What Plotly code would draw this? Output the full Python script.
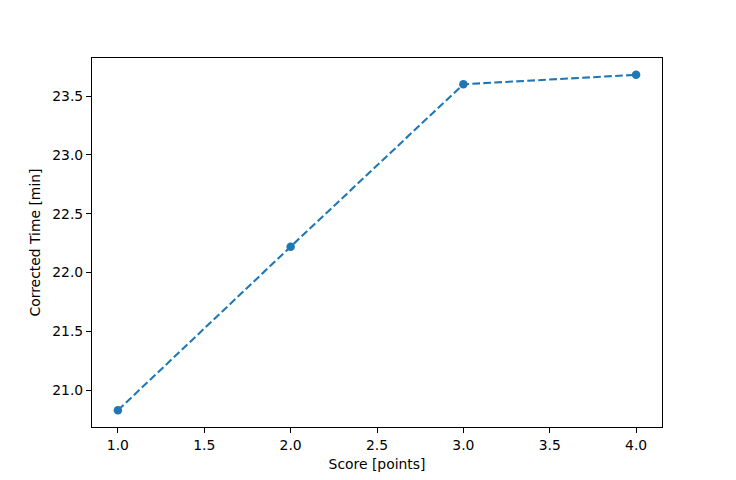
import plotly.graph_objects as go

scores = [1.0, 2.0, 3.0, 4.0]
times = [20.83, 22.22, 23.60, 23.68]
x_ticks = [1.0, 1.5, 2.0, 2.5, 3.0, 3.5, 4.0]
y_ticks = [21.0, 21.5, 22.0, 22.5, 23.0, 23.5]

FS = 13.9

fig = go.Figure()
fig.add_trace(go.Scatter(
    x=scores, y=times, mode="lines+markers",
    line=dict(color="#1f77b4", width=2.08, dash="7.7px,3.3px"),
    marker=dict(color="#1f77b4", size=8.5),
    showlegend=False,
))

axis_common = dict(
    showline=True, linecolor="black", linewidth=1, mirror=True,
    ticks="outside", ticklen=5, tickcolor="black", tickwidth=1,
    showgrid=False, zeroline=False,
    tickfont=dict(family="DejaVu Sans", size=FS, color="black"),
)

fig.update_layout(
    width=736, height=480,
    margin=dict(l=84, r=82, t=50, b=61),
    paper_bgcolor="white", plot_bgcolor="white",
    font=dict(family="DejaVu Sans", size=FS, color="black"),
    xaxis=dict(range=[0.85, 4.15], tickvals=x_ticks,
               ticktext=[f"{v:.1f}" for v in x_ticks],
               title=dict(text="Score [points]", standoff=7,
                          font=dict(family="DejaVu Sans", size=FS)),
               **axis_common),
    yaxis=dict(range=[20.688, 23.823], tickvals=y_ticks,
               ticktext=[f"{v:.1f}" for v in y_ticks],
               title=dict(text="Corrected Time [min]", standoff=8,
                          font=dict(family="DejaVu Sans", size=FS)),
               **axis_common),
)

fig.write_html("out.html")
